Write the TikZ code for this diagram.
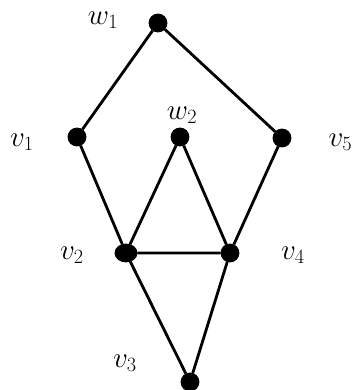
\documentclass[tikz,border=0pt]{standalone}
\usetikzlibrary{shapes.geometric}
\begin{document}
\begin{tikzpicture}[
            vertex/.style={circle, draw, fill=black, minimum size=4.8mm, inner sep=0pt},
            lbl/.style={font=\fontsize{27}{31}\selectfont},
            line width=2.4pt
        ]
            \useasboundingbox (0, 0) rectangle (10.53, 11.7);
            \node[vertex] (w1) at (4.74, 11.01) {};
            \node[vertex] (v1) at (2.31,  7.59) {};
            \node[vertex] (w2) at (5.40,  7.59) {};
            \node[vertex] (v5) at (8.46,  7.56) {};
            \node[vertex, ellipse, minimum width=6mm, minimum height=4.8mm] (v2) at (3.78, 4.11) {};
            \node[vertex] (v4) at (6.90,  4.11) {};
            \node[vertex] (v3) at (5.70,  0.24) {};
            \draw (w1)--(v1) (w1)--(v5);
            \draw (v1)--(v2) (v5)--(v4);
            \draw (w2)--(v2) (w2)--(v4) (v2)--(v4);
            \draw (v2)--(v3) (v4)--(v3);
            \node[lbl] (lw1) at (3.09, 11.10) {$w_1$};
            \node[lbl] (lw2) at (5.46,  8.25) {$w_2$};
            \node[lbl] (lv1) at (0.66,  7.44) {$v_1$};
            \node[lbl] (lv5) at (10.21, 7.44) {$v_5$};
            \node[lbl] (lv2) at (2.16,  4.05) {$v_2$};
            \node[lbl] (lv4) at (8.79,  4.05) {$v_4$};
            \node[lbl] (lv3) at (3.75,  0.81) {$v_3$};
        \end{tikzpicture}
\end{document}
